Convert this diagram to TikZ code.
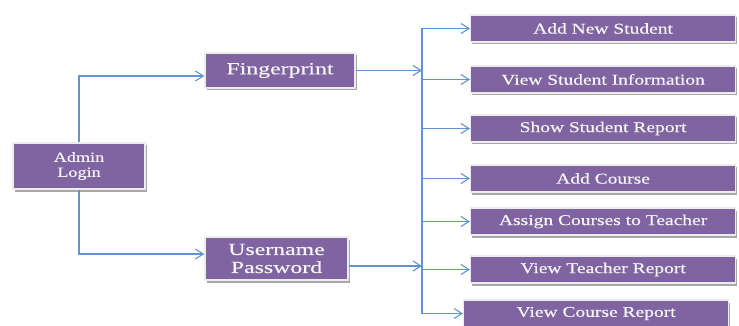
\documentclass[tikz,border=0pt]{standalone}
\usepackage{fontspec}
\setmainfont{Liberation Serif}
\newfontfamily\boxfont[FakeStretch=1.3,FakeBold=0.4]{Liberation Serif}
\newfontfamily\wideboxfont[FakeStretch=1.4,FakeBold=0.4]{Liberation Serif}
\usetikzlibrary{arrows.meta,calc,shadows}

\newlength{\du}
\setlength{\du}{1pt}

\definecolor{boxfill}{rgb}{0.502,0.392,0.635}
\definecolor{boxtext}{rgb}{0.960,0.960,0.960}
\definecolor{linkcolor}{rgb}{0.380,0.580,0.820}

\tikzset{
  menubox/.style={draw=gray!15, line width=1.2\du, fill=boxfill, text=boxtext,
    inner sep=0pt, drop shadow={shadow xshift=1.5\du, shadow yshift=-2.5\du, fill=gray!75, opacity=0.9}},
  taskbox/.style={menubox, anchor=west, minimum width=265\du, minimum height=27\du,
    font=\boxfont\fontsize{15}{16}\selectfont},
  link/.style={draw=linkcolor, line width=1.1\du},
  flow/.style={link, -{Straight Barb[length=8pt,width=10pt]}}
}

\begin{document}
\begin{tikzpicture}
\pgftransformxscale{1.000000}
\pgftransformyscale{-1.000000}
\useasboundingbox (0\du,0\du) rectangle (739\du,326\du);
% login and its two ways in
\node[menubox, minimum width=132\du, minimum height=46\du, align=center,
  font=\boxfont\fontsize{14}{15}\selectfont] (admin) at (79\du,166\du) {Admin\\Login};
\node[menubox, minimum width=150\du, minimum height=35\du,
  font=\wideboxfont\fontsize{17}{18}\selectfont] (finger) at (280\du,70.5\du) {Fingerprint};
\node[menubox, minimum width=143\du, minimum height=43\du, align=center,
  font=\wideboxfont\fontsize{17}{18}\selectfont] (user) at (276.5\du,258.5\du) {Username\\Password};
% admin tasks
\node[taskbox] (addstu) at (470\du,28.5\du) {Add New Student};
\node[taskbox] (viewstu) at (470\du,79.5\du) {View Student Information};
\node[taskbox] (showrep) at (470\du,128.5\du) {Show Student Report};
\node[taskbox] (addcrs) at (470\du,178.5\du) {Add Course};
\node[taskbox] (assign) at (470\du,221.5\du) {Assign Courses to Teacher};
\node[taskbox] (viewtch) at (470\du,269.5\du) {View Teacher Report};
\node[taskbox] (viewcrs) at (463\du,313.5\du) {View Course Report};
% connectors
\coordinate (bus) at (422\du,0\du);
\draw[flow] (admin.north) |- ($(finger.west)+(0,5.5\du)$);
\draw[flow] (admin.south) |- ($(user.west)+(0,-4.5\du)$);
\draw[link] (bus |- addstu.west) -- (bus |- viewcrs.west);
\draw[flow] (finger.east) -- (finger.east -| bus);
\draw[flow] ($(user.east)+(0,7.5\du)$) -- ($(user.east -| bus)+(0,7.5\du)$);
\foreach \task in {addstu,viewstu,showrep,addcrs,assign,viewtch,viewcrs}
  \draw[flow] (bus |- \task.west) -- (\task.west);
\end{tikzpicture}
\end{document}
